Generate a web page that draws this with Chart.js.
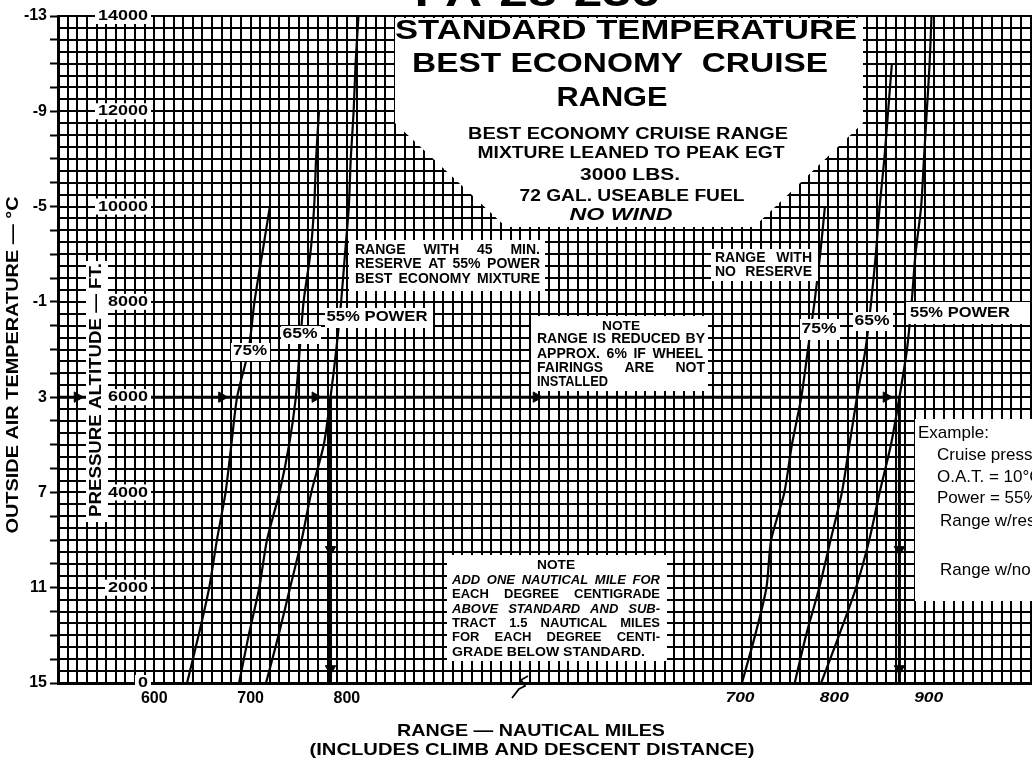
<!DOCTYPE html>
<html>
<head>
<meta charset="utf-8">
<script src="https://cdn.jsdelivr.net/npm/chart.js@4.4.1/dist/chart.umd.min.js"></script>
<style>
  html, body { margin: 0; padding: 0; background: #fff; overflow: hidden; width: 1032px; height: 766px; }
  #wrap { position: relative; width: 1080px; height: 766px; }
  canvas { display: block; }
</style>
</head>
<body>
<div id="wrap"><canvas id="c" width="1080" height="766" style="width:1080px;height:766px"></canvas></div>
<script>
// Pressure altitude steps (ft) shared by every power curve
const altitudeFt = [0, 1000, 2000, 3000, 4000, 5000, 6000, 7000, 8000, 9000, 10000, 11000, 12000, 13000, 14000];

// Range with 45 min. reserve at 55% power, best economy mixture (NM)
const reserve75 = [634, 646, 657, 665, 674, 680, 686, 698, 704, 712, 720];
const reserve65 = [688, 698, 709, 717, 730, 740, 747, 751, 755, 762, 766, 768, 771];
const reserve55 = [716, 729, 741, 753, 763, 776, 783, 789, 794, 798, 802, 804, 807, 809, 812];

// Range with no reserve (NM)
const noReserve75 = [702, 716, 728, 733, 747, 755, 765, 772, 779, 785, 790];
const noReserve65 = [758, 770, 784, 796, 808, 816, 824, 833, 839, 844, 848, 853, 857, 861];
const noReserve55 = [786, 805, 823, 837, 848, 860, 869, 877, 882, 886, 892, 895, 898, 901, 903];

// Worked example: 6000 ft, 55% power
const exampleAltFt = 6000;
const exampleWithReserve = 783;
const exampleNoReserve = 869;
const exampleArrowsReserveNM = [520, 670, 767];
const exampleArrowsNoReserveNM = [484, 855];
const exampleArrowsDownFt = [2800, 300];

// Tick labels
const oatTicks = [-13, -9, -5, -1, 3, 7, 11, 15];
const altTicks = [0, 2000, 4000, 6000, 8000, 10000, 12000, 14000];
const reserveRangeTicks = [600, 700, 800];
const noReserveRangeTicks = [700, 800, 900];

const FAMILY = '"Liberation Sans", Arial, Helvetica, sans-serif';
const BLACK = '#000';

// Text drawn squeezed/stretched horizontally to a given width
function fitText(c, text, x, y, w, size, o = {}) {
  c.save();
  c.font = `${o.italic ? 'italic ' : ''}${o.weight || 'bold'} ${size}px ${FAMILY}`;
  const m = c.measureText(text).width;
  c.translate(x, y);
  if (o.rotate) c.rotate(o.rotate);
  c.scale(w ? w / m : 1, 1);
  c.textAlign = o.align || 'center';
  c.textBaseline = o.baseline || 'middle';
  c.fillStyle = BLACK;
  c.fillText(text, 0, 0);
  c.restore();
}

// Text spread word by word between x0 and x1
function justify(c, text, x0, x1, y, size, o = {}) {
  c.save();
  c.font = `${o.italic ? 'italic ' : ''}bold ${size}px ${FAMILY}`;
  const words = text.split(/\s+/);
  const widths = words.map(w => c.measureText(w).width);
  const total = widths.reduce((a, b) => a + b, 0);
  const sp = c.measureText(' ').width;
  let gap = words.length > 1 ? (x1 - x0 - total) / (words.length - 1) : 0;
  let s = 1;
  if (words.length === 1 || gap < sp * 0.5) {
    s = (x1 - x0) / (total + sp * (words.length - 1));
    gap = sp;
  }
  c.translate(x0, y);
  c.scale(s, 1);
  c.textAlign = 'left';
  c.textBaseline = 'middle';
  c.fillStyle = BLACK;
  let x = 0;
  words.forEach((w, i) => { c.fillText(w, x, 0); x += widths[i] + gap; });
  c.restore();
}

function curve(values, axis) {
  return {
    data: values.map((v, i) => ({ x: v, y: altitudeFt[i] })),
    xAxisID: axis, yAxisID: 'y',
    showLine: true, borderColor: BLACK, borderWidth: 2.2,
    pointRadius: 0, tension: 0.25, fill: false
  };
}

function arrows(points, axis, rotation) {
  return {
    data: points, xAxisID: axis, yAxisID: 'y', showLine: false,
    pointStyle: 'triangle', rotation, pointRadius: 6,
    backgroundColor: BLACK, borderColor: BLACK, borderWidth: 1
  };
}

const whiteBoxes = [
  [349, 240, 545, 291],   // reserve note
  [325, 308, 433, 328],   // 55% POWER (reserve)
  [281, 326, 321, 344],   // 65% (reserve)
  [231, 343, 270, 361],   // 75% (reserve)
  [531, 316, 708, 391],   // wheel fairing note
  [711, 249, 818, 281],   // no reserve note
  [800, 319, 840, 340],   // 75% (no reserve)
  [853, 312, 893, 331],   // 65% (no reserve)
  [906, 302, 1030, 324],  // 55% POWER (no reserve)
  [447, 555, 667, 661],   // temperature note
  [915, 419, 1080, 601],  // example
  [86, 261, 108, 522]     // pressure altitude title strip
];

const decor = {
  id: 'decor',
  afterDatasetsDraw(chart) {
    const c = chart.ctx;
    const { xR, y } = chart.scales;
    c.save();
    c.fillStyle = '#fff';
    // Title block
    c.beginPath();
    c.moveTo(395, 18); c.lineTo(863, 18); c.lineTo(863, 123);
    c.lineTo(754, 227); c.lineTo(506, 227); c.lineTo(395, 123);
    c.closePath(); c.fill();
    whiteBoxes.forEach(([x0, y0, x1, y1]) => c.fillRect(x0, y0, x1 - x0, y1 - y0));
    // Altitude label backgrounds
    altTicks.forEach(v => {
      const py = y.getPixelForValue(v);
      const w = String(v).length * 10;
      c.fillRect(148 - w - 3, py - 8, w + 6, 16);
    });
    c.restore();

    // Altitude labels inside the grid
    altTicks.forEach(v => {
      const py = y.getPixelForValue(v);
      const s = String(v);
      fitText(c, s, 148, py, s.length * 10, 15, { align: 'right' });
    });

    // Range ticks of the no-reserve panel
    noReserveRangeTicks.forEach(v => {
      fitText(c, String(v), xR.getPixelForValue(v), 698, 29, 15, { italic: true });
    });

    // Axis titles
    fitText(c, 'OUTSIDE AIR TEMPERATURE — °C', 13, 365, 337, 17, { rotate: -Math.PI / 2 });
    fitText(c, 'PRESSURE ALTITUDE — FT.', 97, 390, 254, 16, { rotate: -Math.PI / 2 });
    fitText(c, 'RANGE — NAUTICAL MILES', 531, 731, 268, 17);
    fitText(c, '(INCLUDES CLIMB AND DESCENT DISTANCE)', 532, 750, 445, 17);

    // Heading
    fitText(c, 'PA-28-236', 537, 6, 245, 40, { baseline: 'alphabetic' });
    fitText(c, 'STANDARD TEMPERATURE', 626, 31, 462, 28);
    fitText(c, 'BEST ECONOMY  CRUISE', 620, 64, 416, 28);
    fitText(c, 'RANGE', 612, 98, 111, 28);
    fitText(c, 'BEST ECONOMY CRUISE RANGE', 628, 135, 320, 16);
    fitText(c, 'MIXTURE LEANED TO PEAK EGT', 631, 154, 307, 16);
    fitText(c, '3000 LBS.', 630, 176, 100, 16);
    fitText(c, '72 GAL. USEABLE FUEL', 632, 197, 225, 16);
    fitText(c, 'NO WIND', 621, 216, 103, 16, { italic: true });

    // Curve notes
    justify(c, 'RANGE WITH 45 MIN.', 355, 540, 250, 14);
    justify(c, 'RESERVE AT 55% POWER', 355, 540, 264, 14);
    justify(c, 'BEST ECONOMY MIXTURE', 355, 540, 279, 14);
    justify(c, 'RANGE WITH', 715, 812, 258, 14);
    justify(c, 'NO RESERVE', 715, 812, 272, 14);

    fitText(c, '75%', 250, 351, 34, 15);
    fitText(c, '65%', 300, 334, 35, 15);
    fitText(c, '55% POWER', 377, 317, 101, 15);
    fitText(c, '75%', 819, 329, 35, 15);
    fitText(c, '65%', 872, 321, 35, 15);
    fitText(c, '55% POWER', 960, 313, 100, 15);

    // Wheel fairing note
    fitText(c, 'NOTE', 621, 326, 38, 13);
    justify(c, 'RANGE IS REDUCED BY', 537, 705, 339, 14);
    justify(c, 'APPROX. 6% IF WHEEL', 537, 703, 354, 14);
    justify(c, 'FAIRINGS ARE NOT', 537, 705, 368, 14);
    fitText(c, 'INSTALLED', 537, 382, 71, 14, { align: 'left' });

    // Temperature correction note
    fitText(c, 'NOTE', 556, 565, 38, 13);
    justify(c, 'ADD ONE NAUTICAL MILE FOR', 452, 660, 580, 13, { italic: true });
    justify(c, 'EACH DEGREE CENTIGRADE', 452, 660, 594, 13);
    justify(c, 'ABOVE STANDARD AND SUB-', 452, 660, 609, 13, { italic: true });
    justify(c, 'TRACT 1.5 NAUTICAL MILES', 452, 660, 623, 13);
    justify(c, 'FOR EACH DEGREE CENTI-', 452, 660, 637, 13);
    fitText(c, 'GRADE BELOW STANDARD.', 452, 652, 193, 13, { align: 'left' });

    // Example
    c.save();
    c.fillStyle = BLACK;
    c.textBaseline = 'middle';
    c.textAlign = 'left';
    c.font = `17px ${FAMILY}`;
    c.fillText('Example:', 918, 433);
    c.fillText('Cruise pressure altitude = 6000 ft.', 937, 455);
    c.fillText('O.A.T. = 10°C', 937, 477);
    c.fillText('Power = 55%', 937, 498);
    c.fillText('Range w/reserve', 940, 521);
    c.fillText('Range w/no reserve', 940, 570);
    c.restore();

    // Axis break mark
    c.save();
    c.strokeStyle = BLACK;
    c.lineWidth = 1.8;
    c.beginPath();
    c.moveTo(512, 698); c.lineTo(519, 689); c.lineTo(525, 686); c.lineTo(521, 680); c.lineTo(528, 676);
    c.stroke();
    c.restore();
  }
};

new Chart(document.getElementById('c'), {
  type: 'scatter',
  data: {
    datasets: [
      curve(reserve75, 'xL'), curve(reserve65, 'xL'), curve(reserve55, 'xL'),
      curve(noReserve75, 'xR'), curve(noReserve65, 'xR'), curve(noReserve55, 'xR'),
      {
        data: [{ x: -23, y: exampleAltFt }, { x: exampleNoReserve, y: exampleAltFt }, { x: exampleNoReserve, y: 0 }],
        xAxisID: 'xR', yAxisID: 'y', showLine: true, borderColor: BLACK, borderWidth: 3, pointRadius: 0
      },
      {
        data: [{ x: exampleWithReserve, y: exampleAltFt }, { x: exampleWithReserve, y: 0 }],
        xAxisID: 'xL', yAxisID: 'y', showLine: true, borderColor: BLACK, borderWidth: 3, pointRadius: 0
      },
      arrows(exampleArrowsReserveNM.map(x => ({ x, y: exampleAltFt })), 'xL', 90),
      arrows(exampleArrowsNoReserveNM.map(x => ({ x, y: exampleAltFt })), 'xR', 90),
      arrows(exampleArrowsDownFt.map(v => ({ x: exampleWithReserve, y: v })), 'xL', 180),
      arrows(exampleArrowsDownFt.map(v => ({ x: exampleNoReserve, y: v })), 'xR', 180)
    ]
  },
  options: {
    responsive: false,
    animation: false,
    devicePixelRatio: 1,
    events: [],
    layout: { padding: { top: 16, left: 0, right: 0, bottom: 0 } },
    plugins: { legend: { display: false }, tooltip: { enabled: false } },
    scales: {
      xL: {
        type: 'linear', position: 'bottom', min: 500, max: 1554,
        afterBuildTicks: s => { s.ticks = []; for (let v = 500; v <= 1554; v += 10) s.ticks.push({ value: v }); },
        ticks: {
          autoSkip: false, maxRotation: 0, padding: 6, color: BLACK,
          font: { family: FAMILY, size: 16, weight: 'bold' },
          callback: v => reserveRangeTicks.includes(v) ? String(v) : ''
        },
        grid: { color: BLACK, lineWidth: 2, drawTicks: false },
        border: { color: BLACK, width: 3 },
        afterFit: s => { s.height = 83; }
      },
      xR: { type: 'linear', display: false, min: -23, max: 1053 },
      y: {
        type: 'linear', position: 'left', min: 0, max: 14000,
        afterBuildTicks: s => { s.ticks = []; for (let v = 0; v <= 14000; v += 250) s.ticks.push({ value: v }); },
        ticks: { display: false },
        grid: { color: BLACK, lineWidth: 2, drawTicks: false },
        border: { display: false },
        afterFit: s => { s.width = 0; }
      },
      yT: {
        type: 'linear', position: 'left', min: -13, max: 15, reverse: true,
        afterBuildTicks: s => { s.ticks = []; for (let v = -13; v <= 15; v++) s.ticks.push({ value: v }); },
        ticks: {
          autoSkip: false, padding: 3, color: BLACK,
          font: { family: FAMILY, size: 16, weight: 'bold' },
          callback: v => oatTicks.includes(v) ? String(v) : ''
        },
        grid: { drawOnChartArea: false, tickLength: 8, tickWidth: 2, tickColor: BLACK },
        border: { color: BLACK, width: 3 },
        afterFit: s => { s.width = 58; }
      }
    }
  },
  plugins: [decor]
});
</script>
</body>
</html>
